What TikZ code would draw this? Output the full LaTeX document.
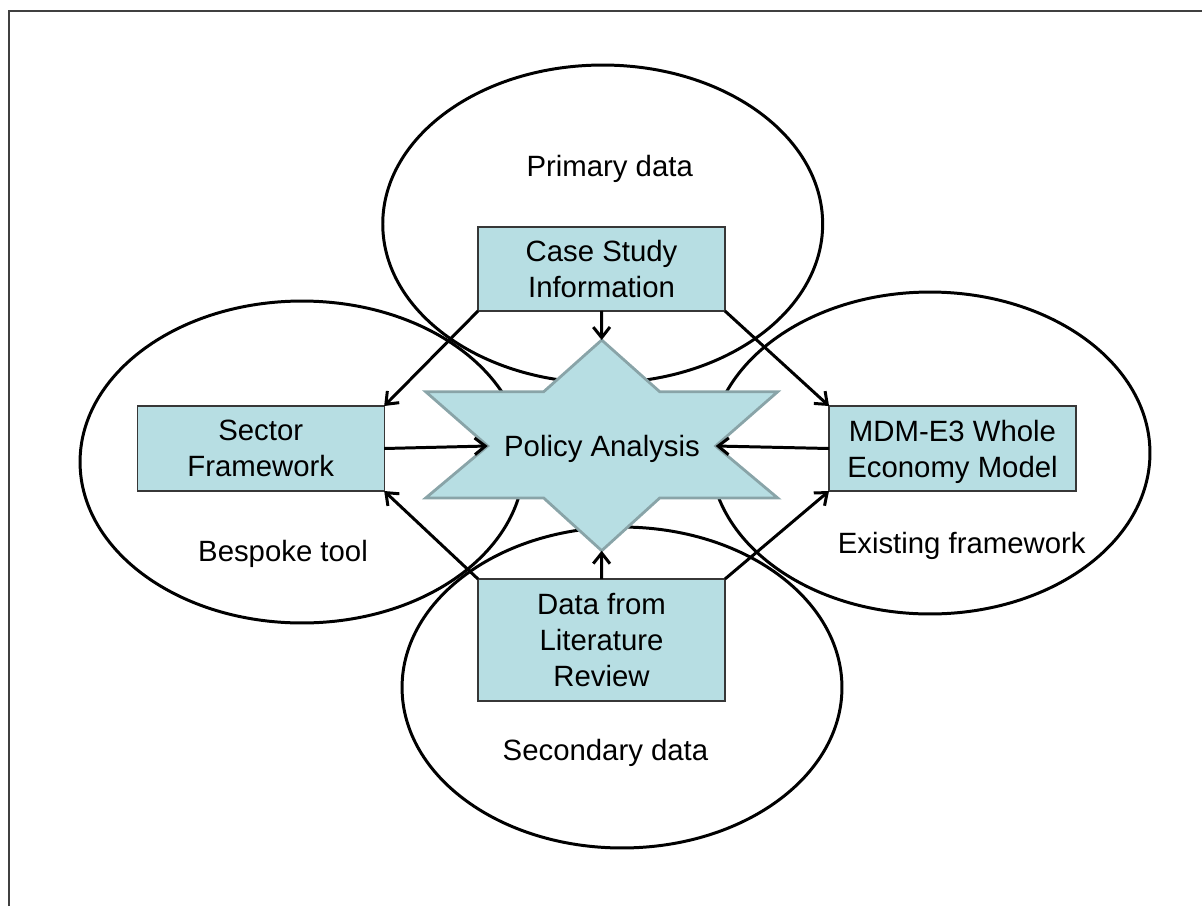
\documentclass[tikz,border=0pt]{standalone}
\usepackage{fontspec}
\setmainfont{Liberation Sans}
\usetikzlibrary{arrows.meta}
\definecolor{boxfill}{RGB}{183,222,227}
\definecolor{starline}{RGB}{137,164,168}
\definecolor{boxline}{RGB}{55,55,55}
\definecolor{frameline}{RGB}{64,64,64}
\begin{document}
\begin{tikzpicture}[x=0.02cm, y=-0.02cm,
  every node/.style={font=\fontsize{16.7}{20.5}\selectfont},
  infobox/.style={draw=boxline, line width=0.7pt, fill=boxfill,
    minimum width=4.94cm, inner sep=0pt, outer sep=0pt,
    align=center, text depth=0pt},
  region/.style={draw=black, line width=1.7pt},
  flow/.style={draw=black, line width=1.7pt,
    -{Straight Barb[length=6pt,width=9.5pt]}},
  regiontext/.style={anchor=base, inner sep=0pt}
]
\useasboundingbox (0,0) rectangle (1202,906);

% slide frame (only the top and left edges fall inside the page)
\draw[frameline, line width=1.1pt] (9.3,906) -- (9.3,11) -- (1202,11);

% the four overlapping regions
\draw[region] (602.7,224) ellipse [x radius=4.40cm, y radius=3.18cm];
\draw[region] (302,462)   ellipse [x radius=4.44cm, y radius=3.22cm];
\draw[region] (930,453)   ellipse [x radius=4.40cm, y radius=3.22cm];
\draw[region] (622,687.5) ellipse [x radius=4.40cm, y radius=3.21cm];

% six-pointed star in the middle
\coordinate (stT) at (601.7,340);
\coordinate (stB) at (601.7,550.7);
\coordinate (stL) at (487.7,446);
\coordinate (stR) at (715.7,446);
\filldraw[fill=boxfill, draw=starline, line width=1.6pt, line join=miter]
  (stT) -- (659.7,391.7) -- (777.7,391.7) -- (stR) -- (777.7,498)
  -- (659.7,498) -- (stB) -- (543.7,498) -- (425.7,498) -- (stL)
  -- (425.7,391.7) -- (543.7,391.7) -- cycle;
\node[regiontext] (pa) at (602,456.7) {Policy Analysis};

% information boxes
\node[infobox, minimum height=1.68cm] (cs)  at (601.5,269)   {Case Study\\Information};
\node[infobox, minimum height=1.70cm] (sf)  at (260.7,448.5) {Sector\\Framework};
\node[infobox, minimum height=1.70cm] (mdm) at (952.5,448.5) {MDM-E3 Whole\\Economy Model};
\node[infobox, minimum height=2.44cm] (lit) at (601.5,640)   {Data from\\Literature\\Review};

% region captions
\node[regiontext] (pd) at (609.7,176)   {Primary data};
\node[regiontext] (bt) at (283,561.7)   {Bespoke tool};
\node[regiontext] (ef) at (961.7,553.3) {Existing framework};
\node[regiontext] (sd) at (605.5,760.7) {Secondary data};

% connectors
\draw[flow] (cs.south) -- (stT);
\draw[flow] (cs.south west) -- (sf.north east);
\draw[flow] (cs.south east) -- (mdm.north west);
\draw[flow] (sf.east) -- (stL);
\draw[flow] (mdm.west) -- (stR);
\draw[flow] (lit.north west) -- (sf.south east);
\draw[flow] (lit.north east) -- (mdm.south west);
\draw[flow] (lit.north) -- (stB);
\end{tikzpicture}
\end{document}
